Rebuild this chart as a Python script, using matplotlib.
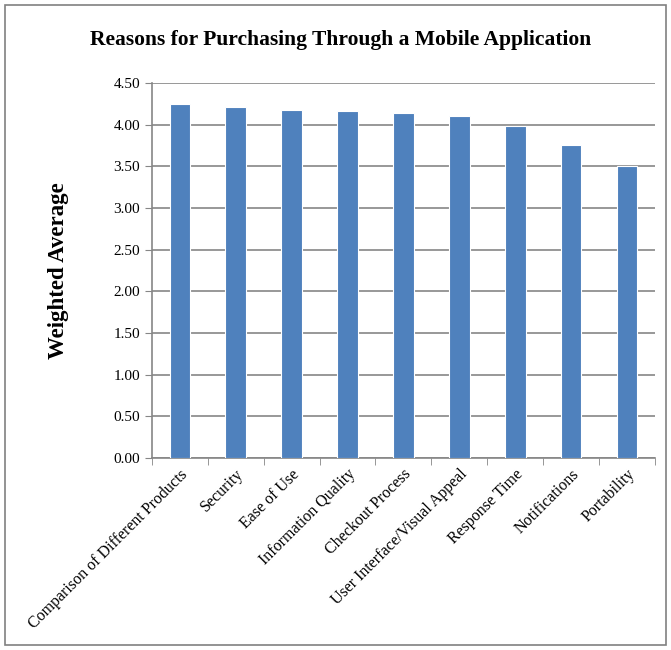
import numpy as np
import matplotlib.pyplot as plt
from matplotlib.patches import Rectangle

categories = ['Comparison of Different Products', 'Security', 'Ease of Use',
              'Information Quality', 'Checkout Process', 'User Interface/Visual Appeal',
              'Response Time', 'Notifications', 'Portability']
weighted_avg = [4.25, 4.21, 4.18, 4.17, 4.14, 4.11, 3.98, 3.76, 3.51]
yticks = np.arange(0, 4.51, 0.5)

plt.rcParams['font.family'] = ['Liberation Serif', 'DejaVu Serif']

fig = plt.figure(figsize=(6.71, 6.5), dpi=100)
ax = fig.add_axes([0.2265, 0.2954, 0.7495, 0.5769])

x = np.arange(len(categories))
grid_col = '#868686'
ax.set_axisbelow(True)
ax.yaxis.grid(True, color=grid_col, linewidth=1.2)
ax.bar(x, weighted_avg, width=0.37, color='#4F81BD', edgecolor='white', linewidth=0.8, zorder=3)

ax.set_xlim(-0.5, len(categories) - 0.5)
ax.set_ylim(0, 4.5)
ax.set_yticks(yticks)
ax.set_yticklabels([f'{v:.2f}' for v in yticks], fontsize=11)
ax.set_xticks(x)
ax.set_xticklabels(categories, rotation=45, ha='right', rotation_mode='anchor', fontsize=11.5)
ax.tick_params(axis='x', which='major', length=0, pad=6)
ax.set_xticks(np.arange(-0.5, len(categories)), minor=True)
ax.tick_params(axis='x', which='minor', length=5, color=grid_col)
ax.tick_params(axis='y', length=5, color=grid_col)

for s in ['top', 'right']:
    ax.spines[s].set_visible(False)
for s in ['left', 'bottom']:
    ax.spines[s].set_color(grid_col)
    ax.spines[s].set_linewidth(1.2)

ax.set_ylabel('Weighted Average', fontsize=16.5, fontweight='bold', labelpad=32)
fig.text(0.508, 0.938, 'Reasons for Purchasing Through a Mobile Application',
         ha='center', va='center', fontsize=15.5, fontweight='bold')

fig.patches.append(Rectangle((0.007, 0.007), 0.985, 0.985, transform=fig.transFigure,
                             fill=False, edgecolor='#808080', linewidth=1.2))

fig.savefig('out.png', dpi=100)
